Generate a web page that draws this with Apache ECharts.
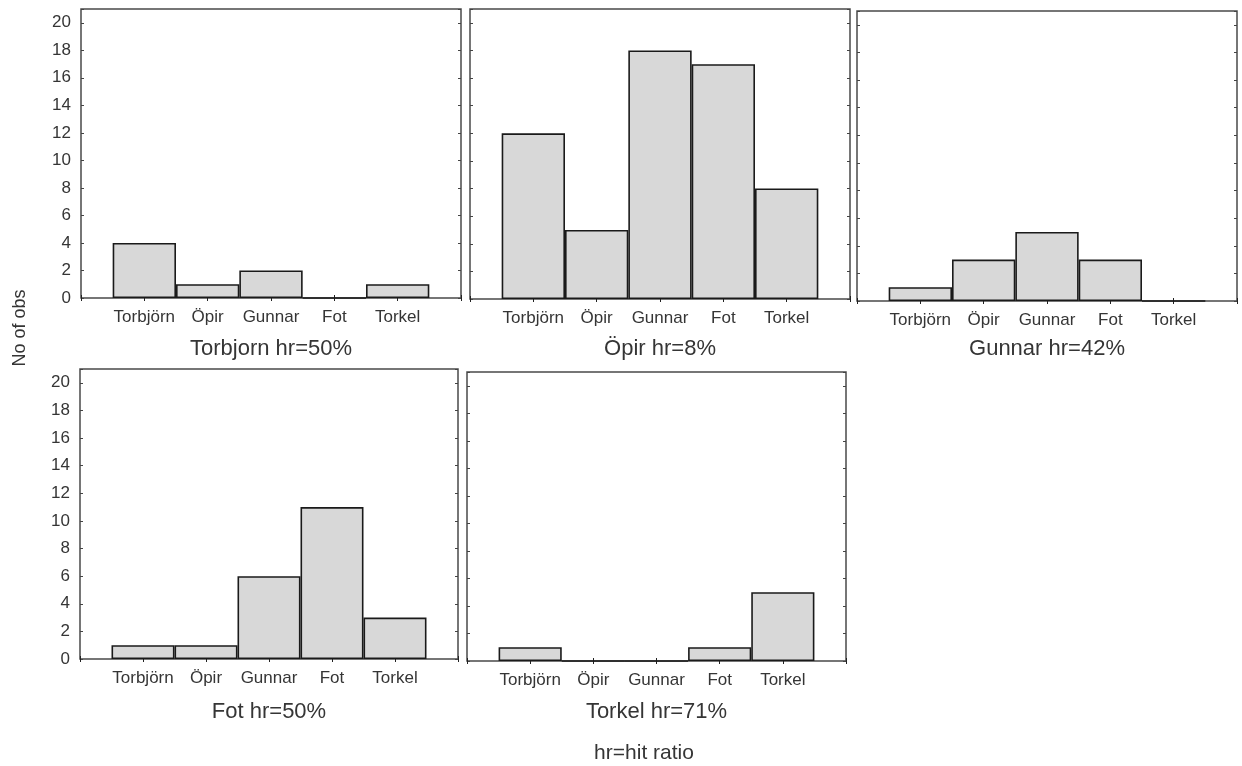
<!DOCTYPE html>
<html>
<head>
<meta charset="utf-8">
<script src="https://cdn.jsdelivr.net/npm/echarts@6/dist/echarts.min.js"></script>
<style>
  body { margin: 0; background: #fff; }
  #main { width: 1242px; height: 766px; }
</style>
</head>
<body>
<div id="main"></div>
<script>
// categories on the x axis of every panel
var players = ['Torbjörn', 'Öpir', 'Gunnar', 'Fot', 'Torkel']

// no of obs per panel (guesses of each player)
var torbjornObs = [4, 1, 2, 0, 1]
var opirObs = [12, 5, 18, 17, 8]
var gunnarObs = [1, 3, 5, 3, 0]
var fotObs = [1, 1, 6, 11, 3]
var torkelObs = [1, 0, 0, 1, 5]

var panelTitles = ['Torbjorn hr=50%', 'Öpir hr=8%', 'Gunnar hr=42%', 'Fot hr=50%', 'Torkel hr=71%']
var yTicks = [0, 2, 4, 6, 8, 10, 12, 14, 16, 18, 20]

var font = 'Liberation Sans, Arial, sans-serif'
var textColor = '#353535'
var frameColor = '#4a4a4a'

// panel boxes in px: left, top, width, height
var boxes = [
  [81, 9, 380, 289],
  [470, 9, 380, 290],
  [857, 11, 380, 290],
  [80, 369, 378, 290],
  [467, 372, 379, 289]
]
var allObs = [torbjornObs, opirObs, gunnarObs, fotObs, torkelObs]
var showYLabels = [true, false, false, true, false]

// pad one empty slot each side so bars sit at 1..5 of a 0..6 frame
var xCats = [''].concat(players, [''])

var grid = []
var xAxis = []
var yAxis = []
var series = []
var graphic = []

boxes.forEach(function (b, i) {
  grid.push({
    left: b[0], top: b[1], width: b[2], height: b[3],
    show: true, borderColor: frameColor, borderWidth: 1.5,
    backgroundColor: '#fff'
  })
  // bottom axis with labels
  xAxis.push({
    type: 'category', gridIndex: i, data: xCats, boundaryGap: false,
    axisLine: { show: false },
    axisTick: { show: true, inside: true, length: 3, lineStyle: { color: '#222' } },
    axisLabel: { interval: 0, margin: 11, fontSize: 17, fontFamily: font, color: textColor }
  })
  // top axis, ticks only
  xAxis.push({
    type: 'category', gridIndex: i, data: xCats, boundaryGap: false, position: 'top',
    axisLine: { show: false },
    axisTick: { show: true, inside: true, length: 3, lineStyle: { color: '#222' } },
    axisLabel: { show: false }
  })
  yAxis.push({
    type: 'value', gridIndex: i, min: 0, max: 21, interval: 2,
    splitLine: { show: false },
    axisLine: { show: false },
    axisTick: { show: true, inside: true, length: 3, lineStyle: { color: '#444' } },
    axisLabel: {
      show: showYLabels[i], margin: 10, fontSize: 17, fontFamily: font, color: textColor,
      formatter: function (v) { return yTicks.indexOf(v) >= 0 ? String(v) : '' }
    }
  })
  yAxis.push({
    type: 'value', gridIndex: i, min: 0, max: 21, interval: 2, position: 'right',
    splitLine: { show: false },
    axisLine: { show: false },
    axisTick: { show: true, inside: true, length: 3, lineStyle: { color: '#444' } },
    axisLabel: { show: false }
  })
  series.push({
    type: 'bar',
    xAxisIndex: i * 2,
    yAxisIndex: i * 2,
    data: ['-'].concat(allObs[i], ['-']),
    barWidth: '100%',
    itemStyle: { color: '#d8d8d8', borderColor: '#1a1a1a', borderWidth: 1.6 },
    silent: true
  })
  graphic.push({
    type: 'text',
    x: b[0] + b[2] / 2,
    y: i < 3 ? 349 : 712,
    style: {
      text: panelTitles[i], fill: textColor, fontSize: 22, fontFamily: font,
      align: 'center', verticalAlign: 'middle'
    }
  })
})

graphic.push({
  type: 'text', x: 20, y: 328, rotation: Math.PI / 2,
  style: {
    text: 'No of obs', fill: textColor, fontSize: 18, fontFamily: font,
    align: 'center', verticalAlign: 'middle'
  }
})
graphic.push({
  type: 'text', x: 644, y: 753,
  style: {
    text: 'hr=hit ratio', fill: textColor, fontSize: 21, fontFamily: font,
    align: 'center', verticalAlign: 'middle'
  }
})

var myChart = echarts.init(document.getElementById('main'))
myChart.setOption({
  animation: false,
  grid: grid,
  xAxis: xAxis,
  yAxis: yAxis,
  series: series,
  graphic: graphic
})
</script>
</body>
</html>
